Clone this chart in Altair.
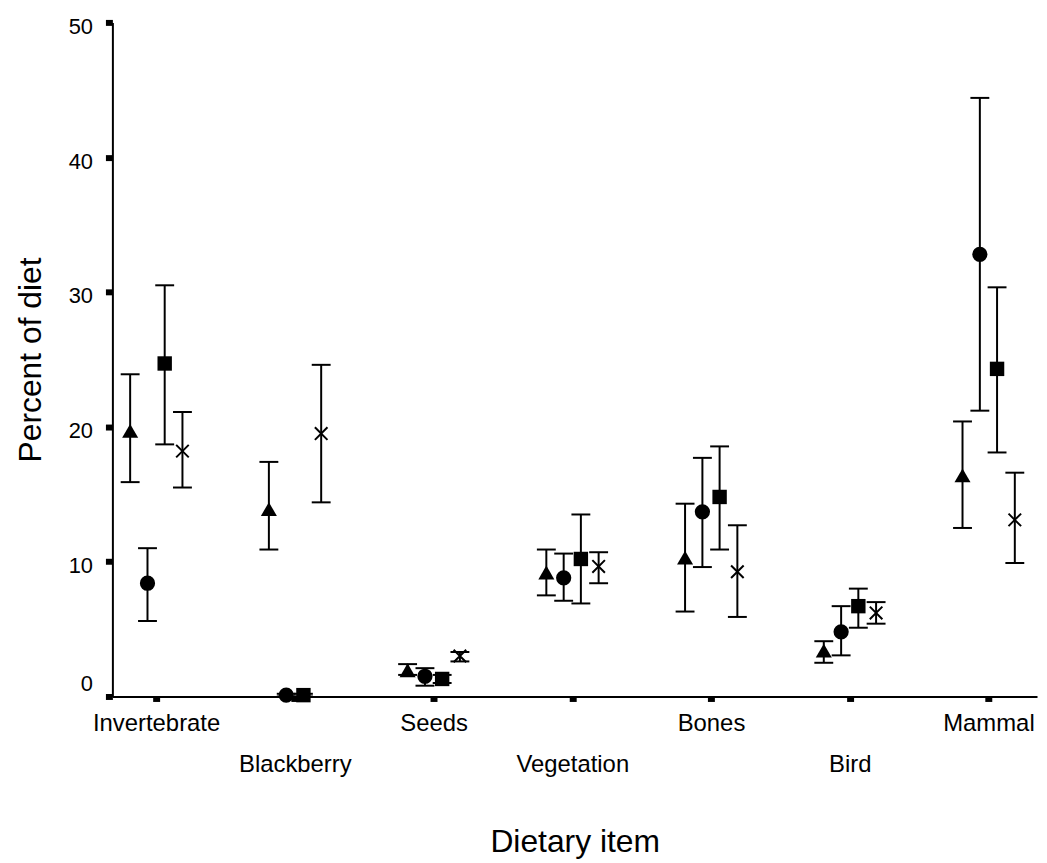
import altair as alt
import pandas as pd

categories = ["Invertebrate", "Blackberry", "Seeds", "Vegetation", "Bones", "Bird", "Mammal"]
series_names = ["Triangle", "Circle", "Square", "Asterisk"]

tri_mean = [19.7, 13.9, 1.95, 9.2, 10.3, 3.4, 16.4]
tri_low = [15.9, 10.9, 1.6, 7.5, 6.3, 2.5, 12.5]
tri_high = [23.9, 17.4, 2.4, 10.9, 14.3, 4.1, 20.4]

cir_mean = [8.4, 0.1, 1.5, 8.8, 13.7, 4.8, 32.8]
cir_low = [5.6, 0.0, 0.8, 7.1, 9.6, 3.05, 21.2]
cir_high = [11.0, 0.2, 2.1, 10.6, 17.7, 6.7, 44.4]

sq_mean = [24.7, 0.1, 1.3, 10.2, 14.8, 6.7, 24.3]
sq_low = [18.7, 0.0, 1.0, 6.9, 10.9, 5.1, 18.1]
sq_high = [30.5, 0.2, 1.6, 13.5, 18.55, 8.0, 30.35]

ast_mean = [18.2, 19.5, 3.0, 9.65, 9.25, 6.2, 13.1]
ast_low = [15.5, 14.4, 2.6, 8.4, 5.9, 5.4, 9.9]
ast_high = [21.1, 24.6, 3.3, 10.7, 12.7, 7.0, 16.6]

y_ticks = [0, 10, 20, 30, 40, 50]

series_data = {
    "Triangle": (tri_mean, tri_low, tri_high),
    "Circle": (cir_mean, cir_low, cir_high),
    "Square": (sq_mean, sq_low, sq_high),
    "Asterisk": (ast_mean, ast_low, ast_high),
}

rows = []
for s in series_names:
    m, lo, hi = series_data[s]
    for i, c in enumerate(categories):
        rows.append({"item": c, "idx": i, "series": s, "mean": m[i], "low": lo[i], "high": hi[i]})
df = pd.DataFrame(rows)

# horizontal dodge of each series within a category (layout, not data)
offset_expr = ("datum.idx + (datum.series == 'Triangle' ? -0.187 : "
               "datum.series == 'Circle' ? -0.062 : "
               "datum.series == 'Square' ? 0.062 : 0.19)")

FONT = "Liberation Sans"
label_js = "[" + ",".join("'" + c + "'" for c in categories) + "]"

x_axis = alt.Axis(
    values=list(range(len(categories))),
    labelExpr=label_js + "[datum.value]",
    labelFont=FONT, labelFontSize=24, labelColor="black", labelAngle=0,
    labelPadding={"condition": {"test": "datum.value % 2 == 1", "value": 51}, "value": 10},
    labelOverlap=False, labelFlush=False, labelBound=False,
    tickSize=5, tickWidth=7, tickColor="black",
    domainColor="black", domainWidth=2, grid=False,
    title="Dietary item", titleFont=FONT, titleFontSize=32, titleFontWeight="normal",
    titleColor="black", titleY=156, titleBaseline="alphabetic",
)
y_axis = alt.Axis(
    values=y_ticks,
    labelFont=FONT, labelFontSize=22, labelColor="black", labelPadding=13,
    labelOffset={"condition": {"test": "datum.value == 0", "value": -13}, "value": 4},
    tickSize=7, tickWidth=6, tickColor="black",
    domainColor="black", domainWidth=2, grid=False,
    title="Percent of diet", titleFont=FONT, titleFontSize=32, titleFontWeight="normal",
    titleColor="black", titleX=-82, titleY=339, titleAngle=270,
    titleAlign="center", titleBaseline="middle",
)

x_scale = alt.Scale(domain=[-0.315, 6.35], nice=False, zero=False)
y_scale = alt.Scale(domain=[0, 50], nice=False)

base = alt.Chart(df).transform_calculate(pos=offset_expr)

bars = base.mark_rule(color="black", strokeWidth=2).encode(
    x=alt.X("pos:Q", scale=x_scale, axis=x_axis),
    y=alt.Y("low:Q", scale=y_scale, axis=y_axis),
    y2="high:Q",
)
cap_lo = base.mark_tick(orient="horizontal", size=19, thickness=2, color="black", opacity=1).encode(
    x=alt.X("pos:Q", scale=x_scale), y=alt.Y("low:Q", scale=y_scale)
)
cap_hi = base.mark_tick(orient="horizontal", size=19, thickness=2, color="black", opacity=1).encode(
    x=alt.X("pos:Q", scale=x_scale), y=alt.Y("high:Q", scale=y_scale)
)
solid = base.transform_filter("datum.series != 'Asterisk'").mark_point(
    filled=True, color="black", opacity=1
).encode(
    x=alt.X("pos:Q", scale=x_scale),
    y=alt.Y("mean:Q", scale=y_scale),
    shape=alt.Shape("series:N", scale=alt.Scale(domain=["Triangle", "Circle", "Square"],
                                                range=["triangle-up", "circle", "square"]), legend=None),
    size=alt.Size("series:N", scale=alt.Scale(domain=["Triangle", "Circle", "Square"],
                                              range=[260, 210, 121]), legend=None),
)
star = base.transform_filter("datum.series == 'Asterisk'").mark_point(
    shape="M-1,-1L1,1M-1,1L1,-1", filled=False, color="black", strokeWidth=2, size=160, opacity=1
).encode(
    x=alt.X("pos:Q", scale=x_scale),
    y=alt.Y("mean:Q", scale=y_scale),
)

chart = alt.layer(bars, cap_lo, cap_hi, solid, star).properties(
    width=930, height=678,
    padding={"left": 105, "top": 12, "right": 2, "bottom": 165},
    autosize=alt.AutoSizeParams(type="none"),
    background="white",
).configure_view(stroke=None)

chart.save("out.html", embed_options={"renderer": "svg", "actions": False})
